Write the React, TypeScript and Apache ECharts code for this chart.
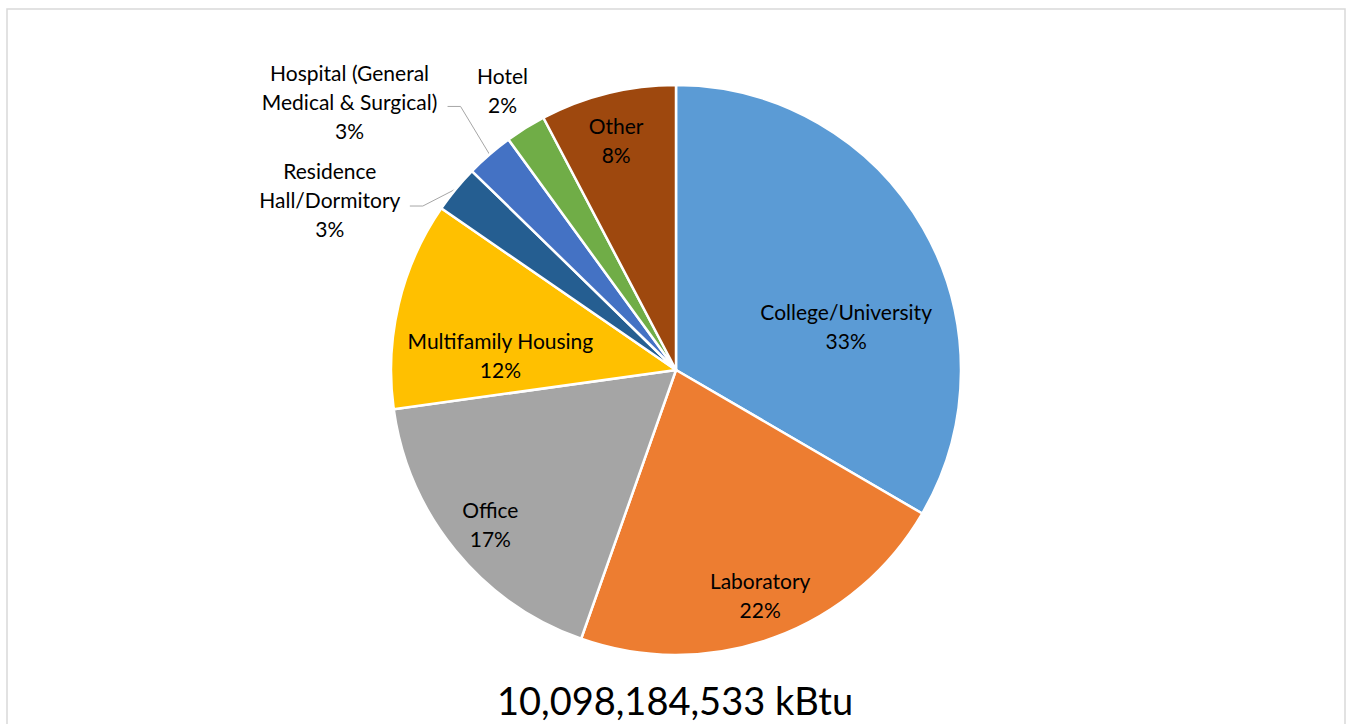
import React, { useEffect, useRef } from "react";
import * as echarts from "echarts";

const CATEGORIES = [
  "College/University",
  "Laboratory",
  "Office",
  "Multifamily Housing",
  "Residence Hall/Dormitory",
  "Hospital (General Medical & Surgical)",
  "Hotel",
  "Other",
];
const LABEL_TEXTS = [
  "College/University",
  "Laboratory",
  "Office",
  "Multifamily Housing",
  "Residence\nHall/Dormitory",
  "Hospital (General\nMedical & Surgical)",
  "Hotel",
  "Other",
];
const SHARES = [33.4, 22.0, 17.4, 11.8, 2.7, 2.7, 2.3, 7.7];
const COLORS = ["#5B9BD5", "#ED7D31", "#A5A5A5", "#FFC000", "#255E91", "#4472C4", "#70AD47", "#9E480E"];
const TOTAL_TEXT = "10,098,184,533 kBtu";

// label placement (layout only)
const INSIDE_OFFSETS: Record<number, [number, number]> = {
  0: [44, 28],
  1: [34, 88],
  2: [-73, 62],
  3: [-34, 19],
  7: [-25, -89],
};
// outside: line bend / end and label center, relative to the slice edge point
const OUTSIDE_LAYOUT: Record<number, { bend?: [number, number]; end?: [number, number]; label: [number, number] }> = {
  4: { bend: [-33, 17], end: [-46, 17], label: [-126, 10] },
  5: { bend: [-29, -48], end: [-42, -48], label: [-140, -53] },
  6: { label: [-23, -38] },
};

const FONT = "Lato, 'Noto Sans', sans-serif";

export default function App() {
  const ref = useRef<HTMLDivElement>(null);
  useEffect(() => {
    document.body.style.margin = "0";
    const chart = echarts.init(ref.current!, undefined, { renderer: "svg" });
    const data = CATEGORIES.map((name, i) => {
      const outside = OUTSIDE_LAYOUT[i] !== undefined;
      return {
        name,
        value: SHARES[i],
        itemStyle: { color: COLORS[i] },
        label: { position: outside ? "outside" : "inside" },
        labelLine: { show: outside && !!OUTSIDE_LAYOUT[i].bend, length: 10, length2: 10 },
      };
    });
    chart.setOption({
      animation: false,
      graphic: [
        {
          type: "rect",
          shape: { x: 7, y: 9, width: 1338, height: 740 },
          style: { fill: "#ffffff", stroke: "#d9d9d9", lineWidth: 1.5 },
          z: -10,
        },
        {
          type: "text",
          x: 675,
          y: 700,
          style: {
            text: TOTAL_TEXT,
            font: `38px ${FONT}`,
            fill: "#000000",
            textAlign: "center",
            textVerticalAlign: "middle",
          },
        },
      ],
      series: [
        {
          type: "pie",
          center: [676, 370],
          radius: [0, 285],
          startAngle: 90,
          clockwise: true,
          avoidLabelOverlap: false,
          itemStyle: { borderColor: "#ffffff", borderWidth: 2.5 },
          label: {
            show: true,
            formatter: (p: any) => `${LABEL_TEXTS[p.dataIndex]}\n${p.percent}%`,
            fontFamily: FONT,
            fontSize: 21,
            lineHeight: 29,
            color: "#000000",
            align: "center",
          },
          percentPrecision: 0,
          labelLine: { lineStyle: { color: "#a6a6a6", width: 1 } },
          labelLayout: (params: any) => {
            const i = params.dataIndex;
            if (INSIDE_OFFSETS[i]) {
              return { dx: INSIDE_OFFSETS[i][0], dy: INSIDE_OFFSETS[i][1] };
            }
            const o = OUTSIDE_LAYOUT[i];
            if (o && params.labelLinePoints) {
              const p0 = params.labelLinePoints[0];
              const res: any = {
                x: p0[0] + o.label[0],
                y: p0[1] + o.label[1],
                align: "center",
                verticalAlign: "middle",
              };
              if (o.bend && o.end) {
                res.labelLinePoints = [
                  [p0[0], p0[1]],
                  [p0[0] + o.bend[0], p0[1] + o.bend[1]],
                  [p0[0] + o.end[0], p0[1] + o.end[1]],
                ];
              }
              return res;
            }
            return {};
          },
          data,
        },
      ],
    });
    return () => chart.dispose();
  }, []);
  return <div ref={ref} style={{ width: 1351, height: 724 }} />;
}
